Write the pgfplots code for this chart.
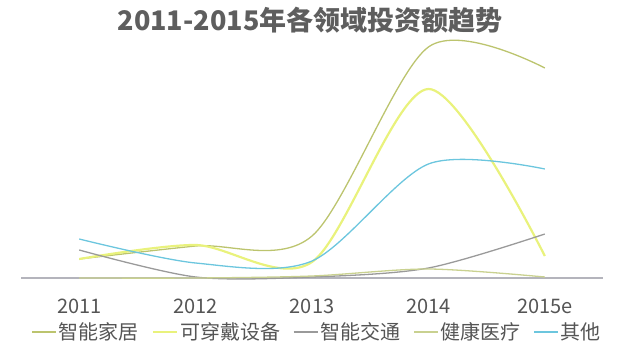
\documentclass[border=0pt]{standalone}
\usepackage{fontspec}
\setmainfont{Noto Sans CJK SC}
\usepackage{pgfplots}
\pgfplotsset{compat=1.18}
\definecolor{cOlive}{HTML}{BCC46E}
\definecolor{cYellow}{HTML}{E9F27C}
\definecolor{cCyan}{HTML}{6CC6DE}
\definecolor{cGray}{HTML}{9A9A9A}
\definecolor{cPale}{HTML}{C9D190}
\definecolor{cBase}{HTML}{B4B4BC}
\definecolor{cText}{HTML}{555555}
\definecolor{cTitle}{HTML}{5E5E5E}
\begin{document}
\begin{tikzpicture}
\begin{axis}[
  scale only axis,
  width=582bp, height=250bp,
  xmin=-0.5, xmax=4.5, ymin=0, ymax=250,
  axis x line=bottom, axis y line=none,
  x axis line style={draw=cBase, line width=1.2bp, -},
  xtick={0,1,2,3,4},
  xticklabels={2011,2012,2013,2014,2015e},
  major tick length=0pt,
  xticklabel style={anchor=center, yshift=-28bp, font=\fontsize{20bp}{24bp}\selectfont, text=cText},
  clip=false,
  legend columns=5,
  legend style={at={(rel axis cs:0.509,-0.216)}, anchor=center, draw=none, fill=none,
    font=\fontsize{20bp}{24bp}\selectfont, text=cText,
    /tikz/every even column/.append style={column sep=11bp}},
  legend image code/.code={\draw[#1] (0bp,0bp) -- (24bp,0bp);},
  every axis plot/.append style={smooth, line width=1.3bp, mark=none},
]
\addplot[cOlive] coordinates {(0,19) (1,32) (2,42) (3,231) (4,210)};
\addlegendentry{智能家居}
\addplot[cYellow, line width=2.2bp] coordinates {(0,19) (1,33) (2,16) (3,189) (4,22)};
\addlegendentry{可穿戴设备}
\addplot[cGray] coordinates {(0,28) (1,1) (2,1) (3,10) (4,44)};
\addlegendentry{智能交通}
\addplot[cPale] coordinates {(0,0) (1,0) (2,2) (3,9) (4,1)};
\addlegendentry{健康医疗}
\addplot[cCyan] coordinates {(0,39) (1,15) (2,17) (3,114) (4,109)};
\addlegendentry{其他}
\node[font=\fontsize{27bp}{32bp}\selectfont\bfseries, text=cTitle] at (rel axis cs:0.4966,1.032) {2011-2015年各领域投资额趋势};
\path (rel axis cs:-0.0361,-0.312) rectangle (rel axis cs:1.0601,1.112);
\end{axis}
\end{tikzpicture}
\end{document}
